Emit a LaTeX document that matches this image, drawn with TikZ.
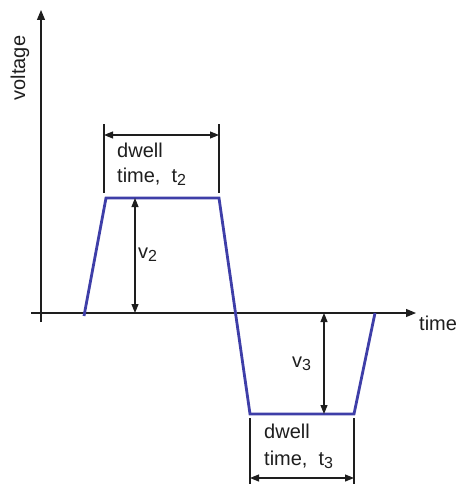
\documentclass[tikz,border=0pt]{standalone}
\usepackage{fontspec}
\setmainfont{Liberation Sans}
\usetikzlibrary{arrows.meta}
\definecolor{pulse}{RGB}{62,62,168}
\definecolor{ink}{RGB}{30,30,30}
\newcommand{\sbs}[1]{\raisebox{-0.35ex}{\fontsize{16}{16}\selectfont #1}}
\tikzset{
  lbl/.style={font=\fontsize{20}{24}\selectfont, text=ink, inner sep=0pt, anchor=base west},
  axis/.style={draw=ink, line width=1.1pt, -{Triangle[length=10pt,width=8pt]}},
  dim/.style={draw=ink, line width=1.1pt, {Triangle[length=9pt,width=7pt]}-{Triangle[length=9pt,width=7pt]}},
  tick/.style={draw=ink, line width=1.1pt},
  wave/.style={draw=pulse, line width=2.8pt, line join=miter}
}
\begin{document}
\begin{tikzpicture}[x=1pt,y=-1pt]
\useasboundingbox (0,0) rectangle (459,484);
% axes
\coordinate (yb) at (41,322);
\coordinate (yt) at (41,10);
\coordinate (xl) at (31,313);
\coordinate (xr) at (416,313);
\draw[axis] (yb) -- (yt);
\draw[axis] (xl) -- (xr);
\node[lbl, anchor=center, rotate=90] (vlab) at (20,68) {voltage};
\node[lbl] (tlab) at (419,330) {time};
% pulse
\coordinate (p0) at (84,316);
\coordinate (p1) at (106,198);
\coordinate (p2) at (219,198);
\coordinate (p3) at (250,414);
\coordinate (p4) at (354,414);
\coordinate (p5) at (375,313);
\draw[wave] (p0) -- (p1) -- (p2) -- (p3) -- (p4) -- (p5);
% dwell t2
\coordinate (a1t) at (104,124);
\coordinate (a1b) at (104,193);
\coordinate (a2t) at (219,124);
\coordinate (a2b) at (219,193);
\draw[tick] (a1t) -- (a1b);
\draw[tick] (a2t) -- (a2b);
\coordinate (d2l) at (104,135);
\coordinate (d2r) at (219,135);
\draw[dim] (d2l) -- (d2r);
\node[lbl] (dw2) at (117,157) {dwell};
\node[lbl] (tm2) at (117,182) {time,\ \ t\sbs{2}};
% v2
\coordinate (v2t) at (135,198);
\coordinate (v2b) at (135,313);
\draw[dim] (v2t) -- (v2b);
\node[lbl] (v2) at (138,258) {v\sbs{2}};
% v3
\coordinate (v3t) at (324,313);
\coordinate (v3b) at (324,414);
\draw[dim] (v3t) -- (v3b);
\node[lbl] (v3) at (292,367) {v\sbs{3}};
% dwell t3
\coordinate (b1t) at (250,418);
\coordinate (b1b) at (250,484);
\coordinate (b2t) at (354,418);
\coordinate (b2b) at (354,484);
\draw[tick] (b1t) -- (b1b);
\draw[tick] (b2t) -- (b2b);
\coordinate (d3l) at (250,478);
\coordinate (d3r) at (354,478);
\draw[dim] (d3l) -- (d3r);
\node[lbl] (dw3) at (264,438) {dwell};
\node[lbl] (tm3) at (264,465) {time,\ \ t\sbs{3}};
\end{tikzpicture}
\end{document}
